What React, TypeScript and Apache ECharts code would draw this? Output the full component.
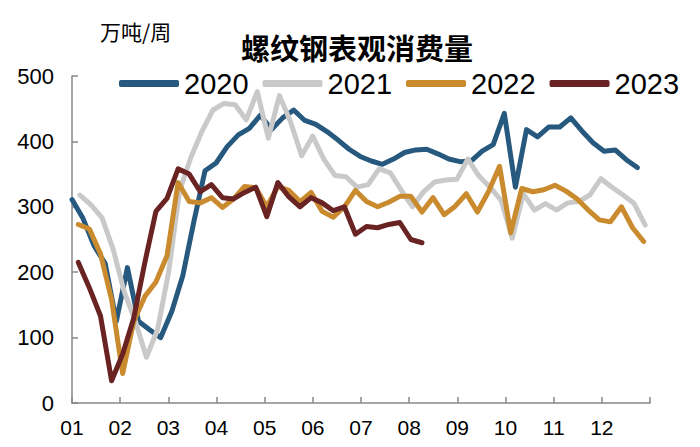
import React, { useEffect, useRef } from "react";
import * as echarts from "echarts";

const monthLabels = ["01", "02", "03", "04", "05", "06", "07", "08", "09", "10", "11", "12"];
const seriesNames = ["2020", "2021", "2022", "2023"];
const seriesColors = ["#27597f", "#c9c9c9", "#c98b2e", "#6a2323"];
// day of year of each series' first weekly observation
const startDays = [0, 5, 4, 4];

const v2020 = [311, 282, 240, 213, 125, 207, 125, 112, 100, 140, 195, 278, 355, 367, 392, 410, 420, 440, 418, 436,
  448, 432, 426, 415, 402, 388, 377, 370, 365, 373, 383, 387, 388, 381, 373, 369, 370, 385, 395, 443,
  330, 418, 407, 422, 422, 436, 416, 398, 385, 387, 372, 360];
const v2021 = [318, 303, 283, 235, 170, 125, 70, 112, 200, 325, 375, 415, 448, 458, 456, 433, 476, 405, 470, 430,
  378, 408, 373, 348, 346, 330, 334, 358, 352, 325, 300, 323, 338, 341, 342, 373, 347, 330, 310, 252,
  320, 295, 305, 295, 306, 308, 318, 343, 330, 318, 305, 272];
const v2022 = [273, 266, 228, 158, 45, 125, 163, 185, 225, 337, 308, 306, 314, 299, 312, 331, 329, 300, 331, 325,
  308, 322, 293, 284, 300, 325, 308, 300, 307, 316, 316, 292, 314, 288, 301, 320, 292, 323, 362, 260,
  328, 323, 326, 333, 324, 312, 295, 280, 277, 300, 268, 247];
const v2023 = [215, 176, 133, 34, 75, 130, 215, 293, 313, 358, 350, 323, 334, 314, 312, 322, 330, 285, 337, 315,
  300, 314, 306, 294, 300, 258, 270, 268, 273, 276, 250, 245];

const allValues = [v2020, v2021, v2022, v2023];
const DAYS = 365;
const LATIN = "'Liberation Sans', Arial, sans-serif";

export default function App() {
  const ref = useRef<HTMLDivElement>(null);
  useEffect(() => {
    if (!ref.current) return;
    const chart = echarts.init(ref.current, null, { renderer: "svg" });
    const series = seriesNames.map((name, k) => ({
      name,
      type: "line",
      showSymbol: false,
      symbol: "none",
      data: allValues[k].map((v, i) => [startDays[k] + 7 * i, v]),
      lineStyle: { width: 5, color: seriesColors[k], cap: "round", join: "round" },
      itemStyle: { color: seriesColors[k] },
    }));
    chart.setOption({
      animation: false,
      backgroundColor: "#ffffff",
      title: {
        text: "螺纹钢表观消费量",
        left: 236,
        top: 27,
        textStyle: { fontFamily: "'Noto Sans CJK SC'", fontSize: 29, fontWeight: "bold", color: "#000" },
      },
      graphic: [
        {
          type: "text",
          left: 100,
          top: 20,
          style: { text: "万吨/周", fontFamily: "'Noto Sans CJK SC'", fontSize: 21, fill: "#000" },
        },
      ],
      legend: {
        left: 114,
        top: 64,
        width: 590,
        itemWidth: 60,
        itemHeight: 7,
        itemGap: 14,
        icon: "roundRect",
        data: seriesNames,
        textStyle: { fontFamily: LATIN, fontSize: 29, color: "#000", padding: [0, 0, 0, 0] },
      },
      grid: { left: 72, right: 50, top: 76, bottom: 44, containLabel: false },
      xAxis: {
        type: "value",
        min: 0,
        max: DAYS,
        interval: DAYS / 12,
        axisLine: { show: true, lineStyle: { color: "#888", width: 1.5 } },
        axisTick: { show: true, inside: true, length: 6, lineStyle: { color: "#888", width: 1.5 } },
        splitLine: { show: false },
        axisLabel: {
          margin: 14,
          fontFamily: LATIN,
          fontSize: 21,
          color: "#000",
          formatter: (v: number) => {
            const idx = Math.round(v / (DAYS / 12));
            return idx < 12 ? monthLabels[idx] : "";
          },
        },
      },
      yAxis: {
        type: "value",
        min: 0,
        max: 500,
        interval: 100,
        axisLine: { show: true, lineStyle: { color: "#888", width: 1.5 } },
        axisTick: { show: true, inside: true, length: 6, lineStyle: { color: "#888", width: 1.5 } },
        splitLine: { show: false },
        axisLabel: { margin: 18, fontFamily: LATIN, fontSize: 22, color: "#000" },
      },
      series,
    });
    return () => chart.dispose();
  }, []);
  return <div ref={ref} style={{ position: "absolute", left: 0, top: 0, width: 700, height: 447 }} />;
}
